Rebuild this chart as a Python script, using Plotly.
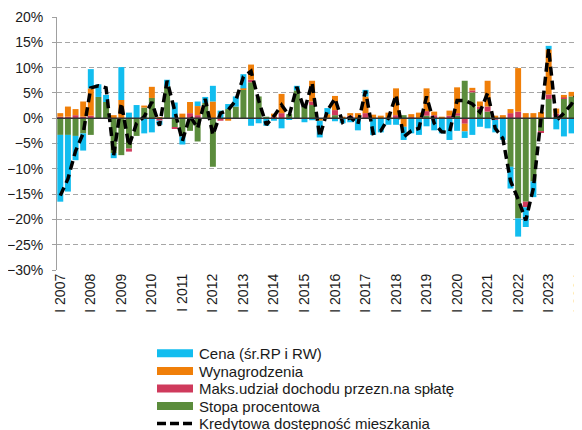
import plotly.graph_objects as go

years = list(range(2007, 2025))
roman = ["I", "II", "III", "IV"]
quarters = [f"{r} {y}" for y in years for r in roman][:69]  # I 2007 .. I 2024
tick_vals = [f"I {y}" for y in years]

# Components (percentage points), quarter by quarter
cena = [-13.2, -11.2, -4.8, -3.4, 3.8, 2.5, 1.4, -1.0, 6.5, 1.1,
        2.6, -3.0, -2.8, -0.8, 1.3, 3.1, -1.6, 0.0, 0.9, 1.2,
        3.1, 1.5, 1.0, 2.0, 2.8, -1.5, -1.0, -1.5, -0.5, -2.0,
        -0.3, 0.9, -0.8, -0.4, -3.3, 1.2, -0.6, -1.0, -0.8, -2.4,
        1.3, -3.3, -2.8, -1.3, -1.3, -2.6, -3.0, -3.3, -1.6, -2.4,
        -3.0, -4.3, -2.5, -1.3, -3.3, -1.7, -2.0, -2.5, -4.3, -4.3,
        -3.6, -3.9, -3.1, 0.0, 0.7, -2.2, -3.6, -3.0, -5.3]
wynagrodzenia = [0.7, 2.0, 1.2, 3.0, 5.4, 0.0, 0.0, 0.6, 3.6, 0.0,
                 0.0, 0.4, 2.2, 0.2, 0.0, 0.0, 0.9, 2.2, 1.8, 0.0,
                 3.3, 0.0, -0.5, 0.0, 0.3, 3.0, 0.0, 0.0, 0.6, 3.8,
                 0.0, 0.0, 0.0, 4.1, -0.5, 0.8, 2.8, 0.3, 0.5, 1.0,
                 3.3, 0.7, 0.5, 1.1, 5.3, -1.7, 0.6, 1.1, 4.5, 0.7,
                 0.3, 1.0, 5.1, -1.5, 0.5, 1.0, 5.1, 0.5, 0.6, 0.8,
                 8.6, 1.0, 1.0, 1.2, 8.9, 1.0, 0.5, 0.9, 9.5]
maks_udzial = [0.3, 0.3, 0.6, 0.3, 0.5, 0.0, 0.0, 0.0, 0.0, -0.6,
               0.0, 0.0, 0.0, -0.5, 0.0, -0.3, 0.0, 1.0, 0.6, 0.0,
               0.0, -0.5, 0.0, 0.0, 0.0, 0.5, 0.0, 0.0, 0.3, 1.0,
               0.0, 0.0, 0.0, 0.7, 0.0, 0.0, 1.0, 0.0, 0.5, 0.0,
               1.0, 0.0, 0.0, 0.0, 0.6, 0.0, 0.2, 0.0, 0.9, 0.6,
               0.0, 0.5, 0.5, -1.1, 0.4, 0.3, 1.0, -0.3, 0.0, 1.0,
               1.3, -1.1, 0.0, -0.2, 0.9, 0.6, 0.3, 0.0, 0.7]
stopa = [-3.3, -3.3, -3.5, -3.0, -3.3, 4.2, 3.2, -6.9, -7.3, -6.0,
         -3.5, 2.1, 4.0, 0.0, 6.3, -1.8, -3.6, -2.5, -4.6, 3.0,
         -9.6, 0.0, 1.8, 2.3, 5.6, 7.1, 4.3, 0.3, 0.0, 0.0,
         0.8, 5.5, 2.3, 2.6, 0.0, 0.0, 0.6, 0.0, 0.0, 0.0,
         0.0, 0.0, 0.0, 0.0, 0.0, 0.6, 0.0, 0.0, 0.5, 0.0,
         0.0, 0.0, 0.5, 7.4, 5.1, 2.0, 1.3, 0.0, 0.0, -9.6,
         -19.8, -16.5, -12.5, -2.6, 3.8, 0.3, 3.8, 4.3, 0.7]
dostepnosc = [-15.3, -12.0, -6.5, -3.0, 6.0, 6.4, 6.0, -7.3, 3.0, -5.5,
              -1.0, 0.3, 3.2, -1.5, 7.4, 1.5, -4.5, 0.5, -2.0, 3.8,
              -3.3, 1.0, 1.6, 3.5, 8.2, 9.3, 3.5, -1.3, 0.4, 2.6,
              0.5, 6.2, 1.6, 7.0, -3.7, 1.5, 3.9, -0.8, 0.2, -1.2,
              5.4, -3.0, -2.5, 0.0, 4.6, -3.7, -2.5, -2.0, 4.3, -1.0,
              -2.7, -2.8, 3.5, 3.5, 2.8, 1.2, 5.0, -2.0, -4.0, -12.4,
              -16.0, -20.2, -13.8, 0.0, 13.8, -0.5, 1.0, 2.8, 5.8]

names = ["Cena (śr.RP i RW)", "Wynagrodzenia",
         "Maks.udział dochodu przezn.na spłatę", "Stopa procentowa",
         "Kredytowa dostępność mieszkania"]
colors = {"cena": "#12BDEF", "wyn": "#F07F09", "maks": "#CF3A5C", "stopa": "#5B8C3C"}

FONT = "Arial, Liberation Sans, sans-serif"
W, H = 574, 422
ML, MR, MT, MB = 49, 0, 9, 160
PW, PH = W - ML - MR, H - MT - MB

def px(fx):
    return (fx - ML) / PW

def py(fy):
    return (H - MB - fy) / PH

fig = go.Figure()

# stacking order from zero: stopa, maks, wynagrodzenia, cena
for vals, key, nm in [(stopa, "stopa", names[3]), (maks_udzial, "maks", names[2]),
                      (wynagrodzenia, "wyn", names[1]), (cena, "cena", names[0])]:
    fig.add_trace(go.Bar(x=quarters, y=vals, name=nm,
                         marker=dict(color=colors[key], line=dict(width=0)),
                         showlegend=False))

fig.add_trace(go.Scatter(x=quarters, y=dostepnosc, mode="lines", name=names[4],
                         line=dict(color="black", width=3.5, dash="9px,5px"),
                         showlegend=False))

# legend drawn below the chart
shapes = [dict(type="line", xref="paper", yref="y", x0=0, x1=1, y0=0, y1=0,
               line=dict(color="#333333", width=1.5), layer="above")]
annotations = []
rows = [345.3, 363.0, 380.5, 398.0, 415.5]
sym_x0, sym_x1, txt_x = 149, 185, 189
for k, key in enumerate(["cena", "wyn", "maks", "stopa"]):
    yc = rows[k]
    shapes.append(dict(type="rect", xref="paper", yref="paper",
                       x0=px(sym_x0), x1=px(sym_x1), y0=py(yc + 4), y1=py(yc - 4),
                       fillcolor=colors[key], line=dict(width=0)))
shapes.append(dict(type="line", xref="paper", yref="paper",
                   x0=px(sym_x0), x1=px(sym_x1), y0=py(rows[4]), y1=py(rows[4]),
                   line=dict(color="black", width=3.5, dash="9px,4px")))
for k, nm in enumerate(names):
    annotations.append(dict(text=nm, xref="paper", yref="paper", x=px(txt_x), y=py(rows[k]),
                            xanchor="left", yanchor="middle", showarrow=False,
                            font=dict(family=FONT, size=15, color="#1a1a1a")))

fig.update_layout(
    width=W, height=H,
    margin=dict(l=ML, r=MR, t=MT, b=MB, autoexpand=False),
    paper_bgcolor="white", plot_bgcolor="white",
    barmode="relative", bargap=0.22,
    showlegend=False,
    font=dict(family=FONT, size=14, color="#1a1a1a"),
    xaxis=dict(type="category", range=[-0.43, 68.37], tickmode="array",
               tickvals=tick_vals, ticktext=tick_vals, tickangle=-90,
               showgrid=False, showline=False, ticks="", ticklabelstandoff=0,
               tickfont=dict(family=FONT, size=14, color="#1a1a1a")),
    yaxis=dict(range=[-30, 20], dtick=5, ticksuffix="%", showgrid=True,
               gridcolor="#A6A6A6", griddash="5px,3px", gridwidth=1,
               zeroline=False, showline=True, linecolor="#A0A0A0", linewidth=1,
               ticks="outside", ticklen=4, tickcolor="#A0A0A0", ticklabelstandoff=6,
               tickfont=dict(family=FONT, size=14, color="#1a1a1a")),
    shapes=shapes,
    annotations=annotations,
)

fig.write_html("out.html")
